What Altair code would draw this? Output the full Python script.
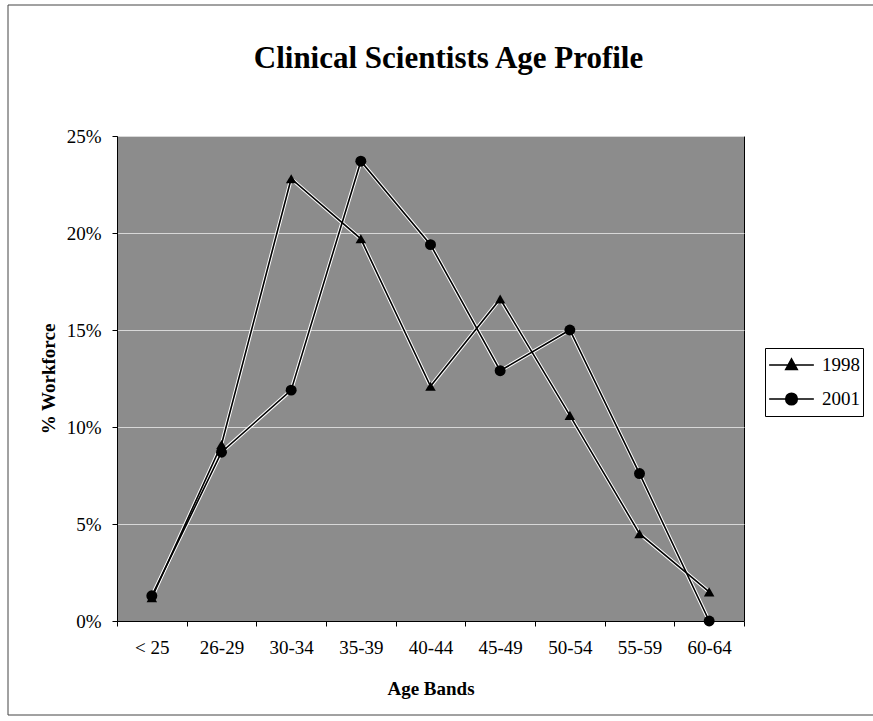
import altair as alt
import pandas as pd

bands = ["< 25", "26-29", "30-34", "35-39", "40-44", "45-49", "50-54", "55-59", "60-64"]
pct_1998 = [0.012, 0.091, 0.228, 0.197, 0.121, 0.166, 0.106, 0.045, 0.015]
pct_2001 = [0.013, 0.087, 0.119, 0.237, 0.194, 0.129, 0.150, 0.076, 0.000]
series = ["1998", "2001"]
y_ticks = [0, 0.05, 0.10, 0.15, 0.20, 0.25]

rows = []
for b, a, c in zip(bands, pct_1998, pct_2001):
    rows.append({"band": b, "series": "1998", "value": a})
    rows.append({"band": b, "series": "2001", "value": c})
df = pd.DataFrame(rows)

FONT = "Liberation Serif"

x_enc = alt.X(
    "band:N", sort=bands, title="Age Bands", bandPosition=0.5,
    scale=alt.Scale(type="band", paddingInner=0, paddingOuter=0),
    axis=alt.Axis(labelAngle=0, tickBand="extent", labelFont=FONT, labelFontSize=19,
                  labelColor="black", labelPadding=12, titleFont=FONT, titleFontSize=19,
                  titleFontWeight="bold", titleColor="black", titlePadding=22,
                  domainColor="black", tickColor="black", tickSize=5, grid=False),
)
y_enc = alt.Y(
    "value:Q", title="% Workforce",
    scale=alt.Scale(domain=[0, 0.25], nice=False, zero=True),
    axis=alt.Axis(values=y_ticks, format=".0%", labelFont=FONT, labelFontSize=19,
                  labelColor="black", labelPadding=11, titleFont=FONT, titleFontSize=19,
                  titleFontWeight="bold", titleColor="black", titlePadding=8,
                  domainColor="black", tickColor="black", tickSize=5,
                  grid=True, gridColor="#d8d8d8", gridWidth=1),
)

base = alt.Chart(df)

halo = base.mark_line(color="white", strokeWidth=3.6).encode(x=x_enc, y=y_enc, detail="series:N")
line = base.mark_line(color="black", strokeWidth=1.6).encode(x=x_enc, y=y_enc, detail="series:N")

tri = base.transform_filter(alt.datum.series == "1998").mark_point(
    shape="triangle-up", filled=True, color="black", opacity=1, size=110
).encode(x=x_enc, y=y_enc)
circ = base.transform_filter(alt.datum.series == "2001").mark_point(
    shape="circle", filled=True, color="black", opacity=1, size=120
).encode(x=x_enc, y=y_enc)

# legend glyphs: a line with the marker on it (outline legend + filled overlay legend)
tri_line_path = "M-1,0L1,0M0,-0.28L0.26,0.2L-0.26,0.2Z"
circ_line_path = "M-1,0L1,0M-0.26,0A0.26,0.26,0,1,1,0.26,0A0.26,0.26,0,1,1,-0.26,0Z"
tri_fill_path = "M0,-0.28L0.26,0.2L-0.26,0.2Z"
circ_fill_path = "M-0.26,0A0.26,0.26,0,1,1,0.26,0A0.26,0.26,0,1,1,-0.26,0Z"

legend_common = dict(
    title=None, orient="none", legendX=648, legendY=212, padding=3,
    symbolSize=2000, symbolOpacity=1,
    labelFont=FONT, labelFontSize=19, labelColor="black",
    clipHeight=28, rowPadding=6, labelOffset=7,
)

legend_lines = base.mark_point(
    filled=False, color="black", strokeWidth=1.5, opacity=0
).encode(
    x=x_enc, y=y_enc,
    shape=alt.Shape(
        "series:N",
        scale=alt.Scale(domain=series, range=[tri_line_path, circ_line_path]),
        legend=alt.Legend(strokeColor="black", symbolStrokeWidth=1.5,
                          symbolStrokeColor="black", **legend_common),
    ),
)

legend_fill = base.mark_point(
    filled=True, color="black", opacity=0
).encode(
    x=x_enc, y=y_enc,
    shape=alt.Shape(
        "series:N",
        scale=alt.Scale(domain=series, range=[tri_fill_path, circ_fill_path]),
        legend=alt.Legend(symbolFillColor="black", labelOpacity=0, **legend_common),
    ),
)

frame = alt.Chart(pd.DataFrame({"k": [0]})).mark_rect(
    fillOpacity=0, stroke="#444444", strokeWidth=1
).encode(x=alt.value(-109), x2=alt.value(770), y=alt.value(-131), y2=alt.value(579))

chart = alt.layer(frame, halo, line, tri, circ, legend_lines, legend_fill).resolve_scale(
    shape="independent"
).properties(
    width=627, height=485,
    title=alt.TitleParams(
        "Clinical Scientists Age Profile", font=FONT, fontSize=31, fontWeight="bold",
        color="black", anchor="middle", dx=18, offset=-94, baseline="alphabetic",
    ),
    padding={"left": 117, "top": 136, "right": 129, "bottom": 100},
    autosize=alt.AutoSizeParams(type="none"),
    background="white",
).configure_view(
    fill="#8c8c8c", stroke="black", strokeWidth=1
).configure_legend(
    symbolBaseFillColor="transparent", symbolBaseStrokeColor="black"
)

chart.save("out.html", embed_options={"renderer": "svg", "actions": False})
